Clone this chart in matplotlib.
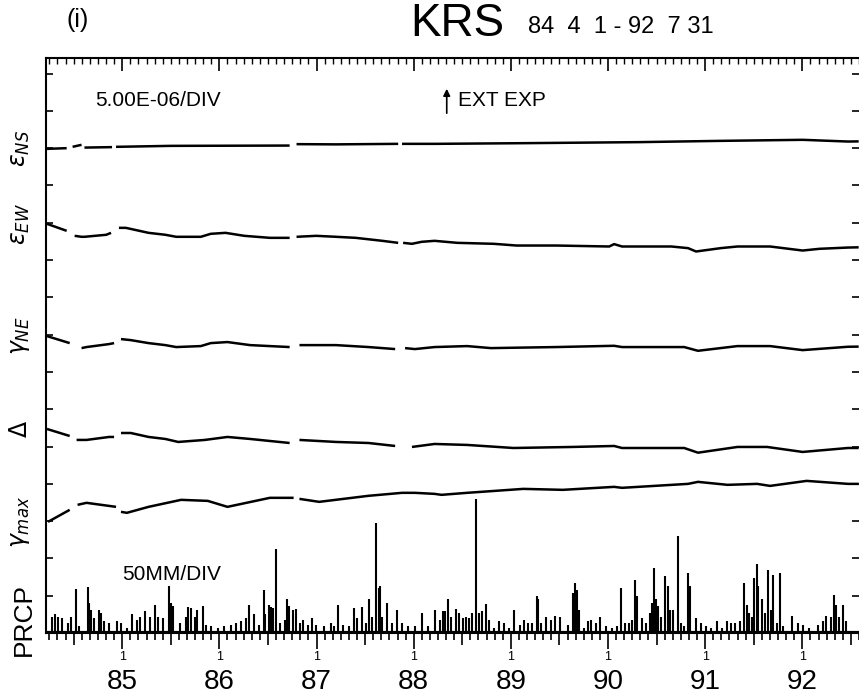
import numpy as np
import matplotlib
matplotlib.use("Agg")
import matplotlib.pyplot as plt

# ---------------- data ----------------
# strain traces: decimal year, change in 1e-6 relative to first sample (NaN = data gap)
t_ens = [84.225, 84.428, 84.46, 84.489, 84.581, 84.596, 84.611, 84.895, 84.915, 84.936, 85.5,
         86.723, 86.76, 86.794, 87.2, 87.84, 87.86, 87.88, 88.215, 89.129, 90.317, 91.16,
         92.003, 92.47, 92.58]
v_ens = [0, 0.09, np.nan, 0.27, 0.54, np.nan, 0.17, 0.23, np.nan, 0.27, 0.40,
         0.44, np.nan, 0.63, 0.60, 0.67, np.nan, 0.67, 0.67, 0.76, 0.90, 1.07,
         1.21, 0.98, 1.0]

t_eew = [84.225, 84.428, 84.46, 84.51, 84.581, 84.611, 84.835, 84.885, 84.92, 84.966, 85.037,
         85.271, 85.444, 85.555, 85.809, 85.911, 86.063, 86.256, 86.52, 86.723, 86.76,
         86.794, 86.997, 87.2, 87.403, 87.677, 87.84, 87.865, 87.891, 87.982, 88.083,
         88.215, 88.449, 88.824, 89.058, 89.464, 90.012, 90.063, 90.144, 90.652, 90.824,
         90.906, 91.16, 91.332, 91.668, 92.003, 92.176, 92.47, 92.58]
v_eew = [0, -0.94, np.nan, -1.61, -1.74, -1.74, -1.47, -1.21, np.nan, -0.54, -0.54,
         -1.21, -1.47, -1.74, -1.74, -1.34, -1.21, -1.61, -1.88, -1.88, np.nan,
         -1.74, -1.61, -1.74, -1.88, -2.28, -2.55, np.nan, -2.55, -2.68, -2.41,
         -2.28, -2.55, -2.68, -2.91, -2.91, -3.04, -2.72, -3.04, -3.04, -3.26,
         -3.71, -3.26, -3.04, -3.04, -3.58, -3.35, -3.18, -3.15]

t_gne = [84.225, 84.459, 84.5, 84.581, 84.632, 84.865, 84.916, 84.95, 84.987, 85.088, 85.271,
         85.444, 85.555, 85.809, 85.911, 86.083, 86.317, 86.723, 86.77, 86.824, 87.2,
         87.535, 87.809, 87.86, 87.911, 88.012, 88.215, 88.55, 88.794, 89.464, 90.063,
         90.144, 90.784, 90.926, 91.332, 91.668, 92.003, 92.47, 92.58]
v_gne = [0, -0.94, np.nan, -1.61, -1.47, -1.07, -0.94, np.nan, -0.40, -0.54, -0.94,
         -1.21, -1.47, -1.34, -0.94, -0.80, -1.21, -1.47, np.nan, -1.21, -1.21,
         -1.47, -1.74, np.nan, -1.61, -1.74, -1.47, -1.34, -1.61, -1.47, -1.30,
         -1.47, -1.47, -1.97, -1.34, -1.34, -1.88, -1.43, -1.41]

t_dil = [84.225, 84.459, 84.5, 84.53, 84.632, 84.865, 84.916, 84.95, 84.987, 85.088, 85.271,
         85.444, 85.576, 85.85, 86.083, 86.317, 86.723, 86.77, 86.824, 87.2, 87.535,
         87.809, 87.87, 87.982, 88.215, 88.55, 89.027, 89.637, 90.063, 90.144, 90.784,
         90.926, 91.332, 91.637, 92.003, 92.47, 92.58]
v_dil = [0, -0.94, np.nan, -1.47, -1.47, -1.07, -1.07, np.nan, -0.54, -0.54, -1.07,
         -1.34, -1.74, -1.47, -1.07, -1.34, -1.88, np.nan, -1.47, -1.74, -1.88,
         -2.28, np.nan, -2.41, -2.01, -2.14, -2.55, -2.41, -2.28, -2.55, -2.55,
         -3.18, -2.41, -2.41, -3.08, -2.55, -2.55]

t_gmx = [84.236, 84.459, 84.5, 84.54, 84.632, 84.936, 84.96, 84.987, 85.048, 85.271, 85.606,
         85.88, 86.083, 86.52, 86.764, 86.78, 86.824, 87.027, 87.535, 87.88, 88.012,
         88.215, 88.286, 88.55, 89.129, 89.535, 90.063, 90.144, 90.824, 90.926, 91.231,
         91.535, 91.668, 92.044, 92.47, 92.58]
v_gmx = [0, 1.61, np.nan, 2.28, 2.55, 2.01, np.nan, 1.34, 1.21, 2.01, 2.95,
         2.81, 2.01, 3.22, 3.22, np.nan, 3.08, 2.68, 3.49, 3.89, 3.89,
         3.75, 3.62, 3.89, 4.42, 4.29, 4.69, 4.56, 5.09, 5.36, 4.96,
         5.09, 4.82, 5.49, 5.09, 5.09]

trace_times = [t_ens, t_eew, t_gne, t_dil, t_gmx]
trace_vals = [v_ens, v_eew, v_gne, v_dil, v_gmx]
trace_labels = [r'$\varepsilon_{NS}$', r'$\varepsilon_{EW}$', r'$\gamma_{NE}$', r'$\Delta$', r'$\gamma_{max}$']
trace_offsets = [12.98, 10.97, 7.96, 5.47, 2.98]   # divisions above the PRCP baseline
strain_per_div = 5.0                               # 5.00E-06 / DIV

# daily precipitation (mm), decimal year
prcp_t = [84.273, 84.307, 84.340, 84.375, 84.442, 84.476, 84.527, 84.560, 84.645, 84.662,
          84.679, 84.713, 84.763, 84.781, 84.814, 84.865, 84.949, 84.984, 85.051, 85.102,
          85.152, 85.187, 85.238, 85.288, 85.339, 85.373, 85.423, 85.484, 85.502, 85.525,
          85.593, 85.660, 85.677, 85.711, 85.745, 85.772, 85.829, 85.863, 85.914, 85.982,
          86.050, 86.117, 86.168, 86.218, 86.269, 86.304, 86.354, 86.405, 86.456, 86.472,
          86.507, 86.530, 86.550, 86.584, 86.624, 86.675, 86.699, 86.720, 86.753, 86.787,
          86.827, 86.862, 86.913, 86.956, 86.997, 87.081, 87.149, 87.183, 87.223, 87.268,
          87.335, 87.386, 87.420, 87.464, 87.505, 87.538, 87.573, 87.616, 87.640, 87.657,
          87.674, 87.725, 87.776, 87.832, 87.877, 87.944, 88.012, 88.086, 88.147, 88.215,
          88.266, 88.299, 88.317, 88.350, 88.385, 88.436, 88.469, 88.503, 88.537, 88.571,
          88.604, 88.645, 88.672, 88.706, 88.740, 88.774, 88.824, 88.882, 88.926, 88.977,
          89.035, 89.095, 89.136, 89.180, 89.213, 89.264, 89.281, 89.315, 89.365, 89.416,
          89.457, 89.502, 89.586, 89.637, 89.660, 89.680, 89.705, 89.755, 89.789, 89.822,
          89.873, 89.918, 89.975, 90.036, 90.093, 90.137, 90.178, 90.218, 90.246, 90.279,
          90.296, 90.347, 90.391, 90.431, 90.449, 90.472, 90.489, 90.517, 90.550, 90.591,
          90.618, 90.635, 90.669, 90.716, 90.753, 90.787, 90.827, 90.848, 90.906, 90.956,
          91.007, 91.058, 91.126, 91.177, 91.227, 91.261, 91.312, 91.355, 91.396, 91.430,
          91.447, 91.481, 91.505, 91.532, 91.548, 91.583, 91.616, 91.650, 91.674, 91.701,
          91.735, 91.769, 91.802, 91.898, 91.954, 92.005, 92.073, 92.157, 92.208, 92.243,
          92.293, 92.327, 92.344, 92.378, 92.418, 92.446]
prcp_mm = [22, 25, 22, 20, 13, 22, 59, 9, 62, 40,
           31, 20, 31, 27, 16, 13, 16, 13, 7, 25,
           18, 22, 29, 22, 38, 22, 20, 63, 40, 36,
           13, 22, 35, 34, 22, 31, 36, 11, 9, 7,
           9, 11, 13, 16, 20, 38, 25, 11, 58, 25,
           38, 35, 34, 113, 13, 18, 45, 36, 31, 32,
           13, 18, 11, 20, 11, 9, 13, 9, 37, 11,
           9, 34, 20, 35, 13, 45, 22, 148, 60, 63,
           22, 40, 13, 31, 13, 9, 9, 27, 9, 31,
           18, 29, 29, 46, 22, 32, 27, 20, 22, 20,
           27, 179, 27, 29, 39, 18, 7, 16, 13, 7,
           31, 11, 18, 13, 13, 49, 45, 13, 22, 18,
           23, 22, 11, 54, 67, 58, 31, 7, 16, 18,
           13, 22, 9, 7, 9, 60, 13, 14, 18, 71,
           49, 20, 13, 27, 40, 87, 45, 36, 22, 77,
           63, 31, 31, 130, 13, 9, 81, 63, 20, 13,
           9, 7, 16, 7, 16, 13, 13, 16, 67, 38,
           27, 22, 74, 92, 63, 45, 27, 84, 31, 78,
           13, 80, 9, 23, 13, 11, 7, 11, 16, 23,
           22, 51, 38, 22, 38, 16]
prcp_mm_per_div = 50.0

years = [85, 86, 87, 88, 89, 90, 91, 92]
ext_exp_time = 88.34

# ---------------- figure ----------------
W, H = 859, 696
fig = plt.figure(figsize=(W / 100, H / 100), dpi=100)
fig.patch.set_facecolor('white')

ax_l, ax_r, ax_top, ax_bot = 46, 859, 58, 633
ax = fig.add_axes([ax_l / W, 1 - ax_bot / H, (ax_r - ax_l) / W, (ax_bot - ax_top) / H])
div_px = 37.3
ymax = (ax_bot - ax_top) / div_px
x_per_px = 1 / 98.5
ax.set_xlim(85 - (123.3 - ax_l) * x_per_px, 85 + (ax_r - 123.3) * x_per_px)
ax.set_ylim(0, ymax)
px = ymax / (ax_bot - ax_top)   # one pixel in y data units

ax.spines['right'].set_visible(False)
for s in ['left', 'top', 'bottom']:
    ax.spines[s].set_linewidth(1.5)

# top ticks (inside)
ax.xaxis.set_ticks_position('top')
ax.set_xticks(years)
ax.set_xticks(np.arange(84.25, 92.6, 1 / 12), minor=True)
ax.tick_params(axis='x', which='major', direction='in', length=9, width=1.2, labeltop=False, labelbottom=False)
ax.tick_params(axis='x', which='minor', direction='in', length=4, width=1.0)
ax.set_yticks(np.arange(1, 16))
ax.tick_params(axis='y', which='major', direction='in', length=5, width=1.2, left=True, right=True,
               labelleft=False, labelright=False)

# bottom ticks crossing the baseline
months = np.arange(84.25, 92.6, 1 / 12)
for m in months:
    frac = m - np.floor(m + 1e-6)
    if abs(frac) < 1e-3 or abs(frac - 1) < 1e-3:
        lo, hi = -16, 2
    elif abs(frac - 0.5) < 1e-3:
        lo, hi = -12, 2
    else:
        lo, hi = -7, 2
    ax.plot([m, m], [lo * px, hi * px], color='black', lw=1.2, clip_on=False, solid_capstyle='butt')

for yv in years:
    ax.text(yv, -24 * px, '1', ha='center', va='center', fontsize=9, family='Liberation Sans')
    ax.text(yv, -49 * px, str(yv), ha='center', va='center', fontsize=20,
            family=['Liberation Sans Narrow', 'Liberation Sans'])

# strain traces
for tt, vv, off, lab in zip(trace_times, trace_vals, trace_offsets, trace_labels):
    y = off + np.array(vv, dtype=float) / strain_per_div
    ax.plot(tt, y, color='black', lw=1.8, solid_capstyle='butt')
    ax.text(-0.032, off, lab, transform=ax.get_yaxis_transform(), rotation=90,
            ha='center', va='center', fontsize=17)

# precipitation
pt = np.array(prcp_t)
pv = np.array(prcp_mm, dtype=float) / prcp_mm_per_div
ax.vlines(pt, 0, pv, color='black', lw=1.5)
ax.axhline(0, color='black', lw=3.0)

ax.text(-0.027, 14 * px, 'PRCP', transform=ax.get_yaxis_transform(), rotation=90,
        ha='center', va='center', fontsize=19, family='Liberation Sans')

# annotations inside
fig.text(95 / W, 1 - 101 / H, '5.00E-06/DIV', fontsize=15, family='Liberation Sans', va='center', ha='left')
fig.text(458 / W, 1 - 101 / H, 'EXT EXP', fontsize=15, family='Liberation Sans', va='center', ha='left')
ax.annotate('', xy=(ext_exp_time, (ax_bot - 86) / div_px), xytext=(ext_exp_time, (ax_bot - 116) / div_px),
            arrowprops=dict(arrowstyle='-|>', color='black', lw=1.2, mutation_scale=10))
fig.text(122 / W, 1 - 574 / H, '50MM/DIV', fontsize=15, family='Liberation Sans', va='center', ha='left')

# titles
fig.text(78 / W, 1 - 20 / H, '(i)', fontsize=18, family='Liberation Sans', ha='center', va='center')
fig.text(410 / W, 1 - 36 / H, 'KRS', fontsize=33, family='Liberation Sans', ha='left', va='baseline')
fig.text(528 / W, 1 - 33 / H, '84  4  1 - 92  7 31', fontsize=17, family='Liberation Sans',
         ha='left', va='baseline')

fig.savefig('out.png', dpi=100, facecolor='white')
